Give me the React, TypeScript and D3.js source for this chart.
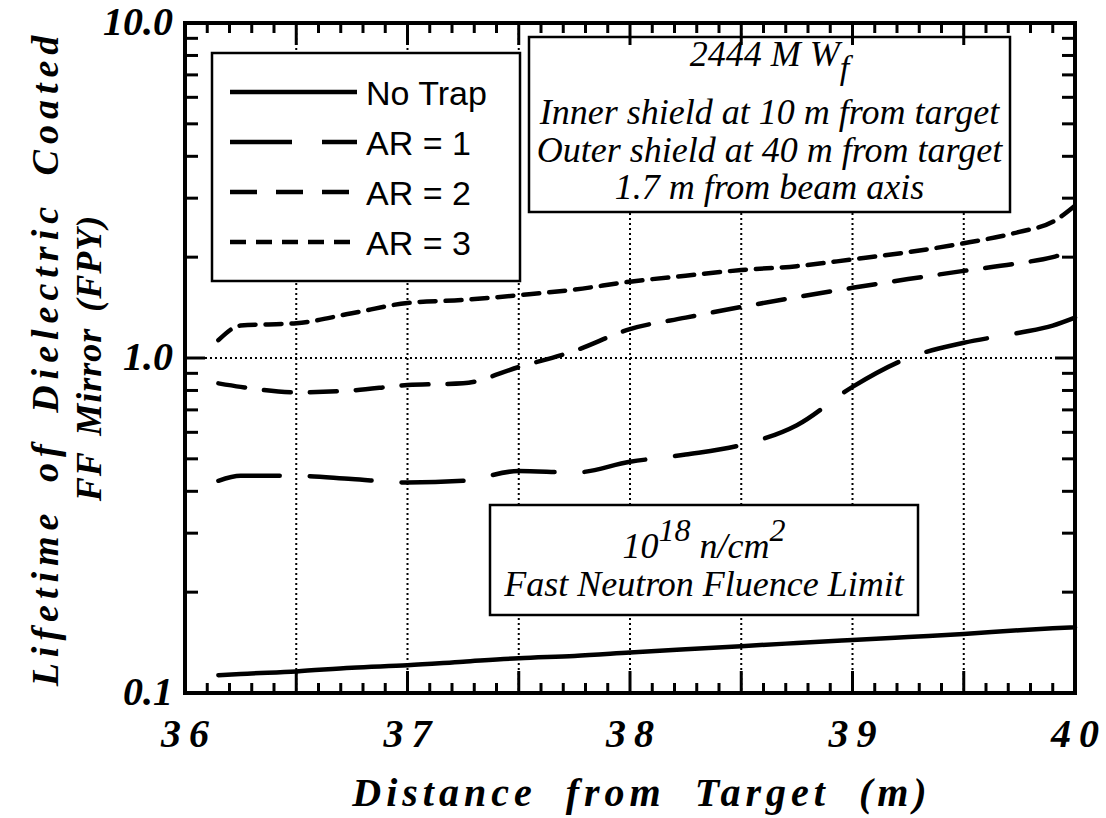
import React from 'react';
import * as d3 from 'd3';

// distance from target (m), shared by all curves
const distance = [36.15, 36.25, 36.5, 36.75, 37, 37.25, 37.5, 37.75, 38, 38.25, 38.5, 38.75, 39, 39.25, 39.5, 39.75, 39.9, 40];

// lifetime (FPY)
const noTrap = [0.113, 0.114, 0.116, 0.119, 0.121, 0.124, 0.127, 0.129, 0.132, 0.135, 0.138, 0.141, 0.144, 0.147, 0.15, 0.154, 0.156, 0.157];
const ar1 = [0.43, 0.445, 0.445, 0.435, 0.425, 0.43, 0.46, 0.455, 0.49, 0.515, 0.55, 0.63, 0.82, 1.0, 1.11, 1.19, 1.25, 1.32];
const ar2 = [0.84, 0.82, 0.79, 0.8, 0.83, 0.84, 0.94, 1.05, 1.22, 1.32, 1.42, 1.52, 1.62, 1.72, 1.82, 1.92, 2.0, 2.1];
const ar3 = [1.13, 1.25, 1.27, 1.36, 1.46, 1.49, 1.54, 1.6, 1.69, 1.76, 1.83, 1.88, 1.97, 2.07, 2.2, 2.38, 2.55, 2.85];

const xTickLabels = ['36', '37', '38', '39', '40'];
const yTickLabels = ['0.1', '1.0', '10.0'];
const legendLabels = ['No Trap', 'AR = 1', 'AR = 2', 'AR = 3'];
const gridDistances = [36.5, 37, 37.5, 38, 38.5, 39, 39.5];

const W = 1106;
const H = 818;
const margin = { top: 23, right: 31, bottom: 125, left: 185 };

const serif = '"Liberation Serif", "Times New Roman", serif';
const sans = '"Liberation Sans", Arial, sans-serif';

const App: React.FC = () => {
    const x = d3.scaleLinear().domain([36, 40]).range([margin.left, W - margin.right]);
    const y = d3.scaleLog().domain([0.1, 10]).range([H - margin.bottom, margin.top]);
    const [x0, x1] = x.range();
    const [yb, yt] = y.range();

    const line = d3.line<number>()
        .x((_, i) => x(distance[i]))
        .y(v => y(v))
        .curve(d3.curveMonotoneX);

    const series = [
        { values: noTrap, dash: 'none' },
        { values: ar1, dash: '62,30' },
        { values: ar2, dash: '27,19' },
        { values: ar3, dash: '16,10' },
    ];

    // x ticks every 0.1, long ones every 0.5
    const xTicks = d3.range(0, 41).map(i => ({ v: 36 + i / 10, major: i % 5 === 0 }));
    // y ticks: 1..9 per decade
    const yTicks: { v: number; major: boolean }[] = [];
    [0.1, 1].forEach(dec => {
        d3.range(1, 10).forEach(k => yTicks.push({ v: k * dec, major: k === 1 }));
    });
    yTicks.push({ v: 10, major: true });

    const legend = { x: 212, y: 53, w: 308, h: 228 };
    const info = { x: 529, y: 37, w: 481, h: 175 };
    const fluence = { x: 490, y: 505, w: 428, h: 110 };

    return (
        <svg width={W} height={H} style={{ position: 'absolute', left: 0, top: 0, background: '#fff' }}>
            {/* grid */}
            <g stroke="#000" strokeWidth={2} strokeDasharray="2,3">
                {gridDistances.map(d => (
                    <line key={d} x1={x(d)} x2={x(d)} y1={yt} y2={yb} />
                ))}
                <line x1={x0} x2={x1} y1={y(1)} y2={y(1)} />
            </g>

            {/* curves */}
            {series.map((s, i) => (
                <path key={i} d={line(s.values) || ''} fill="none" stroke="#000" strokeWidth={4.5}
                    strokeDasharray={s.dash} strokeLinecap="round" />
            ))}

            {/* legend box */}
            <rect x={legend.x} y={legend.y} width={legend.w} height={legend.h} fill="#fff" stroke="#000" strokeWidth={2.5} />
            {legendLabels.map((lab, i) => {
                const ly = 92 + i * 50;
                return (
                    <g key={lab}>
                        <line x1={230} x2={357} y1={ly} y2={ly} stroke="#000" strokeWidth={4.5}
                            strokeDasharray={series[i].dash} />
                        <text x={366} y={ly + 1} dominantBaseline="central" fontFamily={sans} fontSize={34}>{lab}</text>
                    </g>
                );
            })}

            {/* info box */}
            <rect x={info.x} y={info.y} width={info.w} height={info.h} fill="#fff" stroke="#000" strokeWidth={2.5} />
            <g fontFamily={serif} fontStyle="italic" fontSize={36} textAnchor="middle">
                <text x={info.x + info.w / 2} y={66}>
                    2444 M W<tspan fontSize={34} dy={13}>f</tspan>
                </text>
                <text x={info.x + info.w / 2} y={124}>Inner shield at 10 m from target</text>
                <text x={info.x + info.w / 2} y={162}>Outer shield at 40 m from target</text>
                <text x={info.x + info.w / 2} y={199}>1.7 m from beam axis</text>
            </g>

            {/* fluence box */}
            <rect x={fluence.x} y={fluence.y} width={fluence.w} height={fluence.h} fill="#fff" stroke="#000" strokeWidth={2.5} />
            <g fontFamily={serif} fontStyle="italic" fontSize={36} textAnchor="middle">
                <text x={fluence.x + fluence.w / 2} y={558}>
                    10<tspan fontSize={32} dy={-17}>18</tspan>
                    <tspan dy={17}> n/cm</tspan>
                    <tspan fontSize={32} dy={-17}>2</tspan>
                </text>
                <text x={fluence.x + fluence.w / 2} y={596}>Fast Neutron Fluence Limit</text>
            </g>

            {/* ticks */}
            <g stroke="#000" strokeWidth={3}>
                {xTicks.map((t, i) => {
                    const len = t.major ? 22 : 10;
                    return (
                        <g key={i}>
                            <line x1={x(t.v)} x2={x(t.v)} y1={yb} y2={yb - len} />
                            <line x1={x(t.v)} x2={x(t.v)} y1={yt} y2={yt + len} />
                        </g>
                    );
                })}
                {yTicks.map((t, i) => {
                    const len = t.major ? 20 : 13;
                    return (
                        <g key={i}>
                            <line x1={x0} x2={x0 + len} y1={y(t.v)} y2={y(t.v)} />
                            <line x1={x1} x2={x1 - len} y1={y(t.v)} y2={y(t.v)} />
                        </g>
                    );
                })}
            </g>

            {/* frame */}
            <rect x={x0} y={yt} width={x1 - x0} height={yb - yt} fill="none" stroke="#000" strokeWidth={4} />

            {/* tick labels */}
            <g fontFamily={serif} fontStyle="italic" fontWeight="bold" fontSize={40}>
                {xTickLabels.map(l => (
                    <text key={l} x={x(+l) + 4} y={747} textAnchor="middle" letterSpacing={8}>{l}</text>
                ))}
                {yTickLabels.map(l => (
                    <text key={l} x={173} y={y(+l) + 12} textAnchor="end">{l}</text>
                ))}
            </g>

            {/* axis titles */}
            <text x={642} y={806} textAnchor="middle" fontFamily={serif} fontStyle="italic"
                fontWeight="bold" fontSize={40} letterSpacing={5} wordSpacing={14}>
                Distance from Target (m)
            </text>
            <g fontFamily={serif} fontStyle="italic" fontWeight="bold" textAnchor="middle">
                <text transform={`translate(58,${(yt + yb) / 2}) rotate(-90)`} fontSize={38}
                    letterSpacing={6} wordSpacing={10}>
                    Lifetime of Dielectric Coated
                </text>
                <text transform={`translate(101,${(yt + yb) / 2}) rotate(-90)`} fontSize={36}
                    letterSpacing={1} wordSpacing={6}>
                    FF Mirror (FPY)
                </text>
            </g>
        </svg>
    );
};

export default App;
